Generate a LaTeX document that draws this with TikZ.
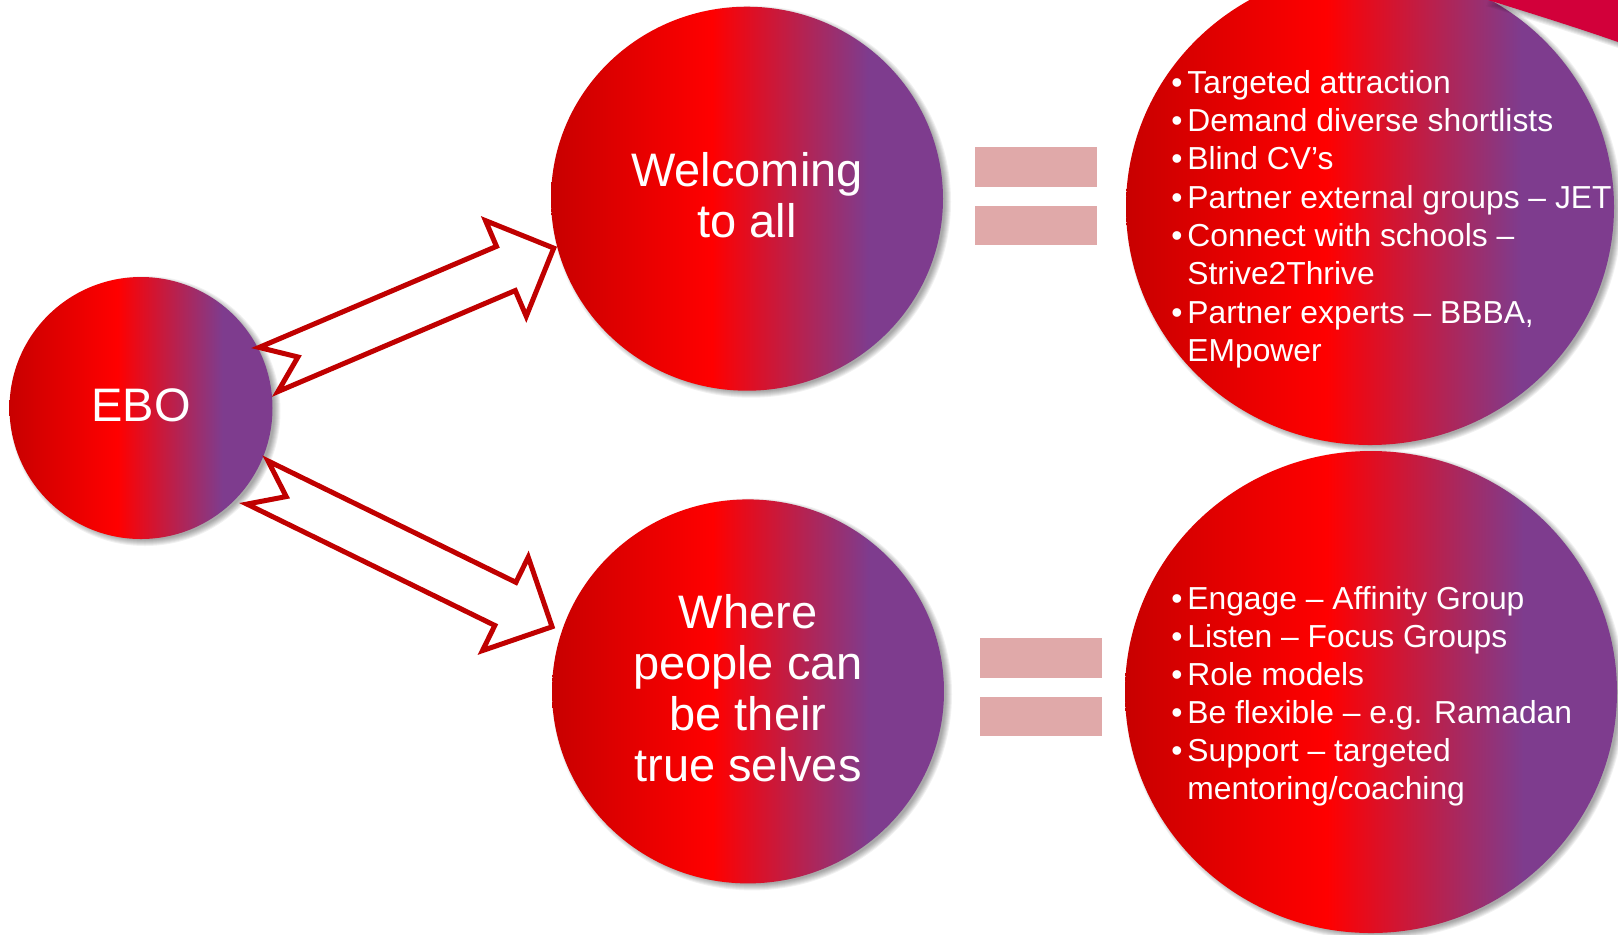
\documentclass[tikz,border=0pt]{standalone}
\usepackage{fontspec}
\setmainfont{Liberation Sans}
\usetikzlibrary{shapes.geometric}
\definecolor{dred}{RGB}{200,0,0}
\definecolor{bred}{RGB}{255,0,0}
\definecolor{purp}{RGB}{126,60,142}
\definecolor{arrowred}{RGB}{192,0,0}
\definecolor{eqpink}{RGB}{224,169,169}
\definecolor{crimsonband}{RGB}{210,0,58}
\pgfdeclarehorizontalshading{bubble}{100bp}{color(0bp)=(dred); color(25bp)=(dred); color(45.5bp)=(bred); color(65.5bp)=(purp); color(75bp)=(purp); color(100bp)=(purp)}
\newcommand{\bubblefont}{\fontsize{23.5}{25.5}\selectfont}
\newcommand{\listfont}{\fontsize{15.9}{19.15}\selectfont}
\newcommand{\bubshadow}[4]{%
  \foreach \k in {0,...,6}{%
    \fill[black, opacity=0.055] (#1+4,#2+3) ellipse [x radius={#3+4-\k}, y radius={#4+4-\k}];
  }}
\tikzset{
  bubblenode/.style={ellipse, shade, shading=bubble, inner sep=0pt},
  bubbletext/.style={inner sep=0pt, text=white, align=center, font=\bubblefont},
  eqbar/.style={rectangle, fill=eqpink, inner sep=0pt, minimum width=60.85pt, minimum height=19.6pt},
  arrowline/.style={draw=arrowred, line width=2.5pt, line join=miter},
  listline/.style={anchor=base west, inner sep=0pt, text=white, font=\listfont},
  pics/blockarrow/.style={code={
    \draw[arrowline] (0,24) -- (32,0) -- (0,-24) -- ({#1-52},-24) -- ({#1-52},-52) -- (#1,0) -- ({#1-52},52) -- ({#1-52},24) -- cycle;}}
}
\begin{document}
\begin{tikzpicture}[x=0.5pt, y=-0.5pt]
\useasboundingbox (0,0) rectangle (1618,934);
\clip (0,0) rectangle (1618,934);
\fill[white] (0,0) rectangle (1618,934);

% shadows
\bubshadow{141}{408}{131.5}{131}
\bubshadow{747}{198.7}{196}{192}
\bubshadow{748}{691.4}{196}{192}
\bubshadow{1370}{207}{244}{238}
\bubshadow{1371}{692}{246}{241}

% bubbles
\node[bubblenode, minimum width=131.5pt, minimum height=131pt] (ebo) at (141,408) {};
\node[bubblenode, minimum width=196pt, minimum height=192pt] (welcome) at (747,198.7) {};
\node[bubblenode, minimum width=196pt, minimum height=192pt] (selves) at (748,691.4) {};
\node[bubblenode, minimum width=244pt, minimum height=238pt] (listA) at (1370,207) {};
\node[bubblenode, minimum width=246pt, minimum height=241pt] (listB) at (1371,692) {};

\node[bubbletext] (eboText) at ([yshift=1.2pt]ebo.center) {EBO};
\node[bubbletext] (welcomeText) at ([yshift=2pt]welcome.center) {Welcoming\\to all};
\node[bubbletext] (selvesText) at ([yshift=1.6pt]selves.center) {Where\\people can\\be their\\true selves};

% block arrows
\pic[rotate=23.06] (arrowA) at (268.5,369.5) {blockarrow=310};
\pic[rotate=-26.09] (arrowB) at (257.5,482.5) {blockarrow=328};

% equals signs
\node[eqbar] (eqAtop) at (1035.8,167) {};
\node[eqbar] (eqAbot) at (1035.8,225.6) {};
\node[eqbar] (eqBtop) at (1040.7,657.9) {};
\node[eqbar] (eqBbot) at (1040.7,716.7) {};

% list texts
\foreach \y [count=\i] in {93.3,131.6,169.9,208.2,246.5,323.1}
  \node[listline] (bulA\i) at (1171,\y) {\textbullet};
\foreach \y/\t [count=\i] in {93.3/{Targeted attraction},131.6/{Demand diverse shortlists},169.9/{Blind CV’s},208.2/{Partner external groups – JET},246.5/{Connect with schools –},284.8/{Strive2Thrive},323.1/{Partner experts – BBBA,},361.4/{EMpower}}
  \node[listline] (lineA\i) at (1187,\y) {\t};

\foreach \y [count=\i] in {609.3,647.4,685.5,723.6,761.7}
  \node[listline] (bulB\i) at (1171,\y) {\textbullet};
\foreach \y/\t [count=\i] in {609.3/{Engage – Affinity Group},647.4/{Listen – Focus Groups},685.5/{Role models},723.6/{Be flexible – e.g. Ramadan},761.7/{Support – targeted},799.8/{mentoring/coaching}}
  \node[listline] (lineB\i) at (1187,\y) {\t};

% crimson band in the top right corner
\foreach \k in {1,...,6}
  \fill[black, opacity=0.06] ({1488-0.3*\k},{\k}) .. controls ({1530-0.3*\k},{13+\k}) and ({1575-0.3*\k},{27+\k}) .. ({1618},{42+\k}) -- (1618,0) -- cycle;
\fill[crimsonband] (1488,0) .. controls (1530,13) and (1575,27) .. (1618,42) -- (1618,0) -- cycle;
\end{tikzpicture}
\end{document}
